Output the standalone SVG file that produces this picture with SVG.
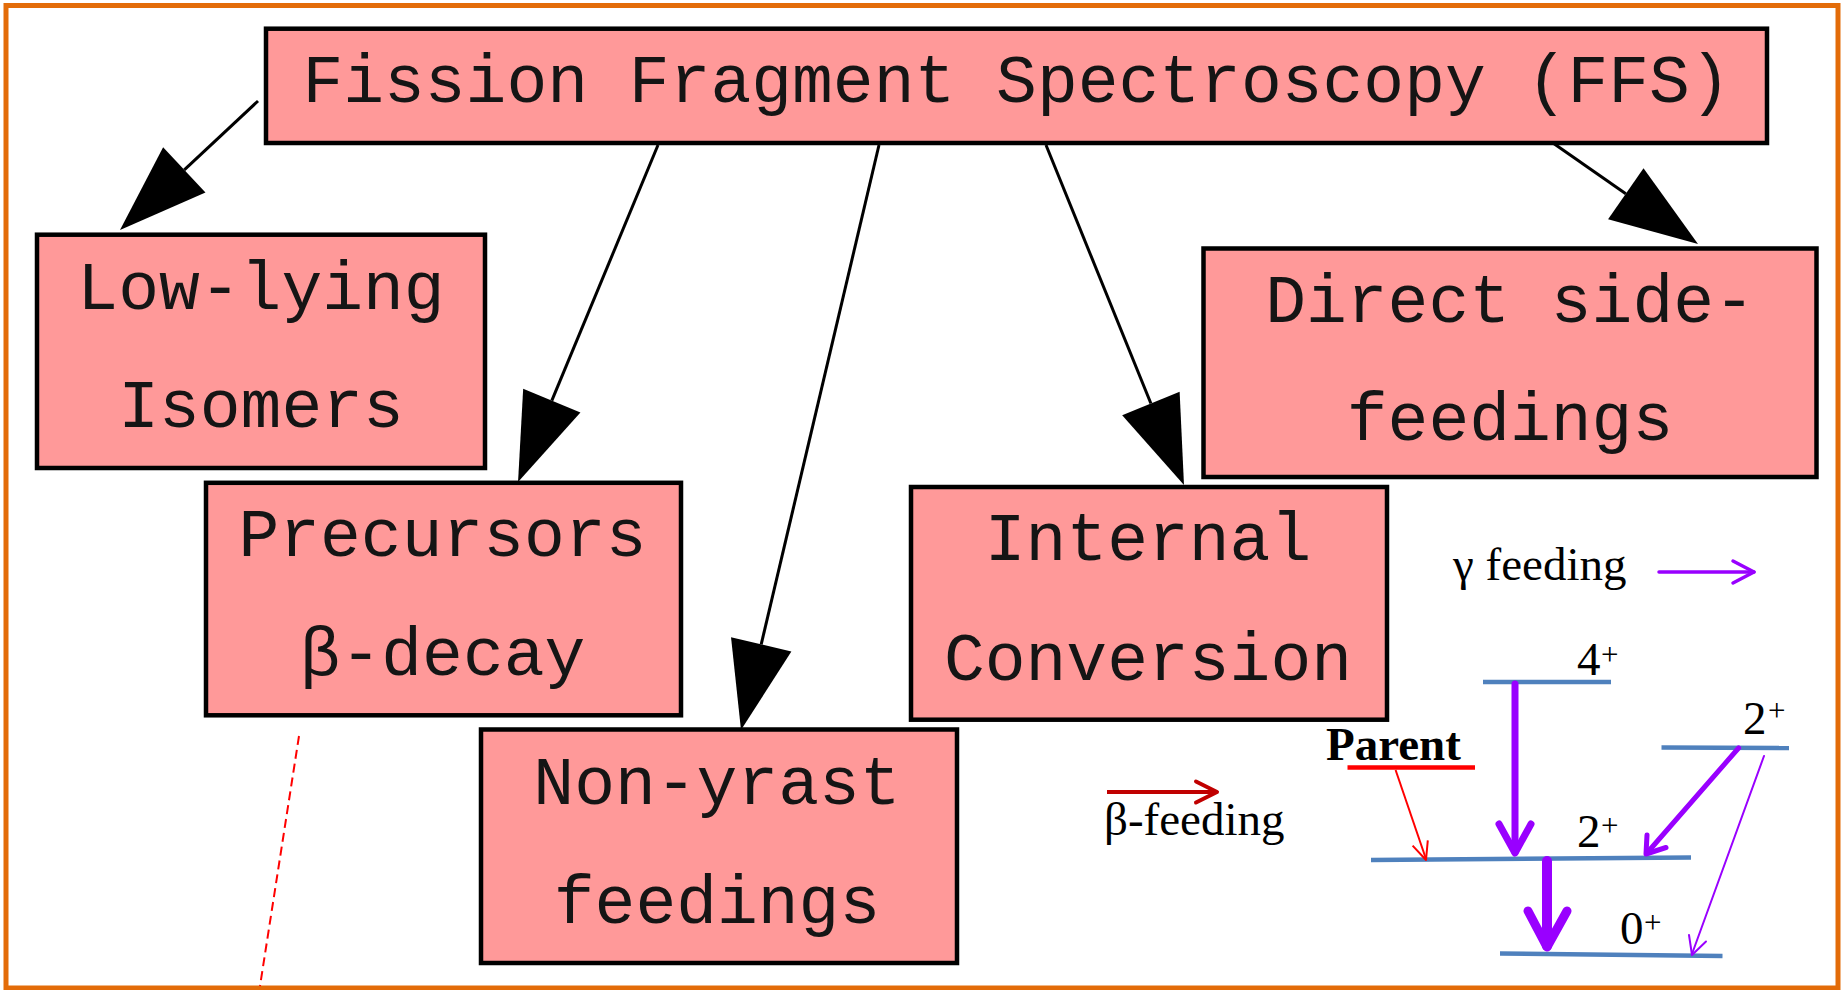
<svg xmlns="http://www.w3.org/2000/svg" width="1841" height="990" viewBox="0 0 1841 990">
  <defs>
    <style>
      .box { fill: #FF9999; stroke: #000; stroke-width: 4.5; }
      .lbl { font-family: "Courier New", "Liberation Mono", monospace; font-size: 68px; fill: #151515; text-anchor: middle; }
      .edge { stroke: #000; stroke-width: 3; fill: none; }
      .lvl { stroke: #4F81BD; stroke-width: 4.5; fill: none; }
      .serif { font-family: "Liberation Serif", "Times New Roman", serif; fill: #000; }
      .big { font-size: 47px; }
      .sup { font-size: 31px; }
      .vio { stroke: #9900FF; fill: none; stroke-linecap: round; stroke-linejoin: round; }
    </style>
    <marker id="head" markerUnits="userSpaceOnUse" markerWidth="90" markerHeight="64" refX="0" refY="31" orient="auto" overflow="visible">
      <path d="M0,0 L88,31 L0,62 Z" fill="#000"/>
    </marker>
  </defs>

  <!-- frame -->
  <rect x="0" y="0" width="1841" height="990" fill="#fff"/>
  <rect x="6" y="5.5" width="1832" height="982.5" fill="#fff" stroke="#E36C09" stroke-width="5"/>

  <!-- nodes -->
  <g id="ffs">
    <rect class="box" x="266" y="28.7" width="1501" height="114.3"/>
    <text class="lbl" x="1016.5" y="101.5">Fission Fragment Spectroscopy (FFS)</text>
  </g>
  <g id="isomers">
    <rect class="box" x="37" y="234.7" width="448" height="233.3"/>
    <text class="lbl" x="261" y="308.5">Low-lying</text>
    <text class="lbl" x="261" y="427">Isomers</text>
  </g>
  <g id="precursors">
    <rect class="box" x="206" y="482.8" width="475" height="232.5"/>
    <text class="lbl" x="442.5" y="555.5">Precursors</text>
    <text class="lbl" x="442.5" y="675">β-decay</text>
  </g>
  <g id="nonyrast">
    <rect class="box" x="481" y="729.5" width="476" height="233.5"/>
    <text class="lbl" x="717" y="803.5">Non-yrast</text>
    <text class="lbl" x="717" y="923">feedings</text>
  </g>
  <g id="ic">
    <rect class="box" x="911" y="487" width="476" height="232.7"/>
    <text class="lbl" x="1148" y="560">Internal</text>
    <text class="lbl" x="1148" y="680">Conversion</text>
  </g>
  <g id="sidefeed">
    <rect class="box" x="1203.5" y="248.5" width="613" height="228.5"/>
    <text class="lbl" x="1510" y="322">Direct side-</text>
    <text class="lbl" x="1510" y="440">feedings</text>
  </g>

  <!-- connectors -->
  <g id="edges">
    <line class="edge" x1="258" y1="101" x2="184.3" y2="169.9" marker-end="url(#head)"/>
    <line class="edge" x1="658" y1="145" x2="551.8" y2="400.7" marker-end="url(#head)"/>
    <line class="edge" x1="879" y1="145" x2="761.2" y2="644.4" marker-end="url(#head)"/>
    <line class="edge" x1="1046" y1="145" x2="1150.9" y2="403.5" marker-end="url(#head)"/>
    <line class="edge" x1="1553" y1="143" x2="1625.8" y2="193.7" marker-end="url(#head)"/>
  </g>

  <!-- dashed guide -->
  <line x1="299" y1="736" x2="260" y2="986" stroke="#FF0000" stroke-width="2" stroke-dasharray="9 5"/>

  <!-- level scheme -->
  <g id="legend">
    <text class="serif big" x="1453" y="580">γ feeding</text>
    <line class="vio" x1="1659" y1="572" x2="1754" y2="572" stroke-width="3.5"/>
    <polyline class="vio" points="1733,561 1754,572 1733,583" stroke-width="3.5"/>

    <line x1="1107" y1="792" x2="1216" y2="792" stroke="#C00000" stroke-width="4"/>
    <polyline points="1196,781.5 1217,792 1196,802.5" fill="none" stroke="#C00000" stroke-width="4" stroke-linecap="round" stroke-linejoin="round"/>
    <text class="serif big" x="1104" y="835">β-feeding</text>
  </g>

  <g id="levels">
    <line class="lvl" x1="1483" y1="682" x2="1611" y2="682"/>
    <line class="lvl" x1="1371" y1="860" x2="1691" y2="857.5"/>
    <line class="lvl" x1="1500" y1="953.5" x2="1722.5" y2="956"/>
    <line class="lvl" x1="1661.5" y1="747.5" x2="1789" y2="748"/>
    <line x1="1347.5" y1="767.5" x2="1475" y2="767.5" stroke="#FF0000" stroke-width="4.5"/>

    <text class="serif big" x="1577" y="675">4</text>
    <text class="serif sup" x="1601" y="665">+</text>
    <text class="serif big" x="1577" y="847">2</text>
    <text class="serif sup" x="1601" y="836">+</text>
    <text class="serif big" x="1620" y="944">0</text>
    <text class="serif sup" x="1644" y="933">+</text>
    <text class="serif big" x="1743" y="734">2</text>
    <text class="serif sup" x="1768" y="721">+</text>
    <text class="serif big" x="1326" y="760" font-weight="bold">Parent</text>
  </g>

  <g id="transitions">
    <!-- beta feeding from parent -->
    <line x1="1395.6" y1="770" x2="1426" y2="859" stroke="#FF0000" stroke-width="2"/>
    <polyline points="1412.6,845.6 1426,860 1427.8,840.4" fill="none" stroke="#FF0000" stroke-width="2" stroke-linejoin="round"/>
    <!-- 4+ to 2+ -->
    <line class="vio" x1="1515" y1="684" x2="1515" y2="852" stroke-width="7"/>
    <polyline class="vio" points="1499,824 1515,853 1531,824" stroke-width="7"/>
    <!-- 2+ to 0+ -->
    <line class="vio" x1="1547" y1="861" x2="1547" y2="946" stroke-width="10"/>
    <polyline class="vio" points="1528,911 1547,947 1567,911" stroke-width="9"/>
    <!-- upper 2+ to 2+ -->
    <line class="vio" x1="1738.6" y1="748" x2="1647" y2="853" stroke-width="5"/>
    <polyline class="vio" points="1647,835 1646,854 1666,847.5" stroke-width="5"/>
    <!-- upper 2+ to 0+ -->
    <line class="vio" x1="1764" y1="756" x2="1692" y2="954" stroke-width="2"/>
    <polyline class="vio" points="1689,935 1692,955 1706,941.5" stroke-width="2"/>
  </g>
</svg>
